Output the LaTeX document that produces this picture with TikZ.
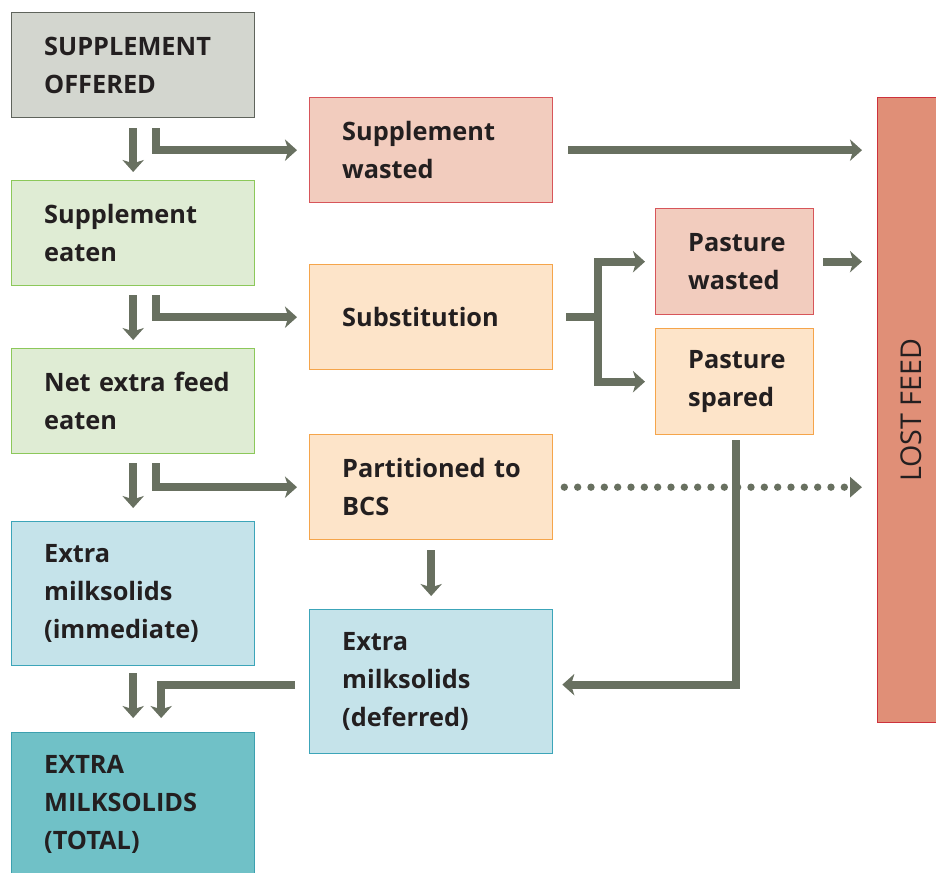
\documentclass[tikz,border=0pt]{standalone}
\usepackage{fontspec}
\setmainfont{Open Sans}
\usetikzlibrary{arrows.meta,calc}

\definecolor{arrowgrey}{RGB}{104,112,96}
\definecolor{textdark}{RGB}{35,31,32}
\definecolor{offeredfill}{RGB}{211,214,207}
\definecolor{offereddraw}{RGB}{95,100,92}
\definecolor{wastedfill}{RGB}{242,204,190}
\definecolor{wasteddraw}{RGB}{215,85,90}
\definecolor{eatenfill}{RGB}{223,236,212}
\definecolor{eatendraw}{RGB}{140,200,90}
\definecolor{orangefill}{RGB}{253,228,201}
\definecolor{orangedraw}{RGB}{245,165,75}
\definecolor{milkfill}{RGB}{197,227,234}
\definecolor{milkdraw}{RGB}{60,165,185}
\definecolor{totalfill}{RGB}{112,193,199}
\definecolor{totaldraw}{RGB}{60,160,175}
\definecolor{lostfill}{RGB}{224,143,119}
\definecolor{lostdraw}{RGB}{205,50,60}

\tikzset{every picture/.style={line width=0.75pt}}
\tikzset{
  box/.style={draw, line width=1pt, anchor=north west, minimum width=182.25pt,
    minimum height=78.75pt, text width=133.5pt, inner xsep=24.375pt, inner ysep=0pt,
    align=left, text=textdark, font=\fontsize{19}{28.5}\selectfont\bfseries},
  tallbox/.style={box, minimum height=108pt},
  smallbox/.style={box, minimum width=118.5pt, text width=69.75pt, minimum height=79.5pt},
  conn/.style={draw=arrowgrey, line width=6pt},
  arr/.style={conn, -{Stealth[length=9pt,width=16pt,inset=2.5pt]}},
  dotarr/.style={draw=arrowgrey, line width=5.5pt, line cap=round, dash pattern=on 0pt off 10pt,
    -{Triangle[length=9pt,width=15pt]}},
}

\begin{document}
\begin{tikzpicture}[x=0.75pt,y=0.75pt,yscale=-1,xscale=1]
\useasboundingbox (0,0) rectangle (936,872);
\clip (0,0) rectangle (936,872);

%Shape: Rectangle [offered]
\node[box, fill=offeredfill, draw=offereddraw] (offered) at (11,12) {SUPPLEMENT\\OFFERED};
%Shape: Rectangle [wasted]
\node[box, fill=wastedfill, draw=wasteddraw] (wasted) at (309,97) {Supplement\\wasted};
%Shape: Rectangle [eaten]
\node[box, fill=eatenfill, draw=eatendraw] (eaten) at (11,180) {Supplement\\eaten};
%Shape: Rectangle [subst]
\node[box, fill=orangefill, draw=orangedraw] (subst) at (309,264) {Substitution};
%Shape: Rectangle [pwasted]
\node[smallbox, fill=wastedfill, draw=wasteddraw] (pwasted) at (655,208) {Pasture\\wasted};
%Shape: Rectangle [pspared]
\node[smallbox, fill=orangefill, draw=orangedraw] (pspared) at (655,328) {Pasture\\spared};
%Shape: Rectangle [net]
\node[box, fill=eatenfill, draw=eatendraw] (net) at (11,348) {\mbox{Net extra feed}\\eaten};
%Shape: Rectangle [part]
\node[box, fill=orangefill, draw=orangedraw] (part) at (309,434) {\mbox{Partitioned to}\\BCS};
%Shape: Rectangle [immed]
\node[tallbox, fill=milkfill, draw=milkdraw] (immed) at (11,521) {Extra\\milksolids\\(immediate)};
%Shape: Rectangle [deferred]
\node[tallbox, fill=milkfill, draw=milkdraw] (deferred) at (309,609) {Extra\\milksolids\\(deferred)};
%Shape: Rectangle [total]
\node[tallbox, fill=totalfill, draw=totaldraw] (total) at (11,732) {EXTRA\\MILKSOLIDS\\(TOTAL)};
%Shape: Rectangle [lost]
\node[draw=lostdraw, fill=lostfill, line width=1pt, anchor=north west, minimum width=51pt,
  minimum height=468.75pt, label={[rotate=90, text=textdark, font=\fontsize{21.5}{24}\selectfont]center:LOST FEED}]
  (lost) at (877,97) {};

%Straight Lines [offered to eaten]
\draw[arr] ($(offered.south)+(0,10)$) -- ($(eaten.north)+(0,-8)$);
\draw[arr] ($(offered.south)+(22.5,10)$) |- ($(wasted.west)+(-12,0)$);
\draw[arr] ($(wasted.east)+(15,0)$) -- ($(lost.west |- wasted.east)+(-15,0)$);
%Straight Lines [eaten to net]
\draw[arr] ($(eaten.south)+(0,9)$) -- ($(net.north)+(0,-8)$);
\draw[arr] ($(eaten.south)+(22.5,9)$) |- ($(subst.west)+(-12,0)$);
%Straight Lines [substitution fork]
\coordinate (fork) at ($(subst.east)+(45,0)$);
\draw[conn] ($(subst.east)+(13,0)$) -- (fork);
\draw[arr] (fork) |- ($(pwasted.west)+(-10,0)$);
\draw[arr] (fork) |- ($(pspared.west)+(-10,0)$);
\draw[arr] ($(pwasted.east)+(9,0)$) -- ($(lost.west |- pwasted.east)+(-15,0)$);
%Straight Lines [net to immed]
\draw[arr] ($(net.south)+(0,9)$) -- ($(immed.north)+(0,-13)$);
\draw[arr] ($(net.south)+(22.5,9)$) |- ($(part.west)+(-12,0)$);
%Dotted Lines [part to lost]
\draw[dotarr] ($(part.east)+(11,0)$) -- ($(lost.west |- part.east)+(-15,0)$);
\draw[arr] ($(part.south)+(0,10)$) -- ($(deferred.north)+(0,-13)$);
%Straight Lines [spared to deferred]
\draw[arr] ($(pspared.south)+(1,5)$) |- ($(deferred.east)+(9,3)$);
%Straight Lines [to total]
\draw[arr] ($(immed.south)+(0,7)$) -- ($(total.north)+(0,-14)$);
\draw[arr] ($(deferred.west)+(-14,3)$) -| ($(total.north)+(28,-14)$);

\end{tikzpicture}
\end{document}
